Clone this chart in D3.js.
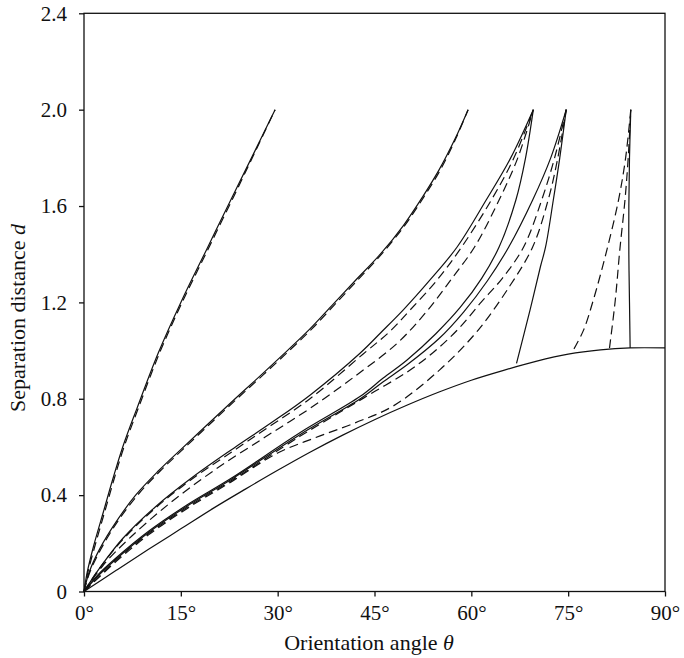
<!DOCTYPE html>
<html>
<head>
<meta charset="utf-8">
<script src="https://cdn.jsdelivr.net/npm/d3@7"></script>
<style>
body{margin:0;background:#fff;}
svg text{font-family:"Liberation Serif","DejaVu Serif",serif;fill:#111;}
</style>
</head>
<body>
<div id="chart"></div>
<script>
// tick values
var thetaTicks = [0, 15, 30, 45, 60, 75, 90];
var dTicks = [0, 0.4, 0.8, 1.2, 1.6, 2.0, 2.4];
var dTickLabels = ["0", "0.4", "0.8", "1.2", "1.6", "2.0", "2.4"];

// lower bound curve [theta (deg), d]
var boundary = [[0,0],[5,0.088],[10,0.175],[15,0.26],[20,0.345],[25,0.425],[30,0.503],[35,0.578],[40,0.648],[45,0.713],[50,0.773],[55,0.828],[60,0.877],[65,0.918],[70,0.955],[75,0.985],[80,1.003],[84.6,1.011],[90,1.011]];

// curves ending at d = 2 near 29.6 deg
var c1Solid = [[0,0],[0.5,0.08],[1.5,0.19],[3,0.33],[4.5,0.47],[6,0.6],[8.2,0.76],[11.5,0.99],[15,1.2],[19,1.42],[23,1.64],[26.5,1.83],[29.6,2.0]];
var c1Dash = [[0,0],[0.6,0.08],[1.7,0.19],[3.2,0.33],[4.7,0.47],[6.2,0.6],[8.4,0.76],[11.7,0.99],[15.2,1.2],[19.2,1.42],[23.2,1.64],[26.6,1.83],[29.6,2.0]];

// curves ending near 59.5 deg
var c2Solid = [[0,0],[0.8,0.08],[2.5,0.18],[5,0.29],[8,0.4],[11.5,0.5],[14.9,0.587],[19,0.69],[23.2,0.795],[27.5,0.9],[31.5,1.0],[35,1.09],[38.5,1.19],[42,1.29],[45.9,1.4],[49.5,1.52],[52.5,1.64],[55,1.75],[57.5,1.88],[59.5,2.0]];
var c2Dash = [[0,0],[0.9,0.08],[2.7,0.18],[5.2,0.29],[8.3,0.4],[11.8,0.5],[15.2,0.587],[19.3,0.69],[23.5,0.795],[27.8,0.9],[31.8,1.0],[35.3,1.09],[38.8,1.19],[42.3,1.29],[46.1,1.4],[49.7,1.52],[52.7,1.64],[55.2,1.75],[57.6,1.88],[59.5,2.0]];

// curves ending near 69.6 deg
var c3SolidA = [[0,0],[2.5,0.1],[6,0.22],[11,0.35],[16.9,0.476],[23.2,0.595],[29,0.7],[35,0.815],[42.8,0.99],[46,1.075],[49.5,1.17],[53.5,1.29],[57.8,1.43],[62.3,1.625],[66.1,1.8],[69.6,2.0]];
var c3DashA = [[0,0],[2.5,0.1],[6,0.215],[11,0.345],[16.9,0.47],[23.2,0.585],[29,0.69],[35,0.8],[43.2,0.985],[47.4,1.08],[50.5,1.168],[54.7,1.293],[58.5,1.43],[63.1,1.625],[66.6,1.8],[69.6,2.0]];
var c3DashB = [[0,0],[3,0.11],[7,0.22],[13,0.36],[20,0.5],[28,0.64],[35,0.76],[42.3,0.9],[48.5,1.03],[53,1.16],[57,1.3],[60.5,1.43],[64.3,1.625],[67.2,1.8],[69.6,2.0]];
var c3SolidB = [[0,0],[2,0.065],[5,0.14],[10,0.25],[16,0.36],[22.8,0.47],[33.5,0.66],[42.8,0.81],[46.3,0.885],[50,0.96],[54.5,1.07],[58.3,1.18],[61.6,1.3],[64.3,1.43],[66.9,1.625],[68.4,1.8],[69.6,2.0]];

// curves ending near 74.7 deg
var c4SolidA = [[0,0],[2,0.06],[5,0.135],[10,0.245],[16,0.355],[22.8,0.465],[33.5,0.652],[42.8,0.8],[46.3,0.87],[50,0.94],[55,1.05],[58.8,1.16],[62.5,1.29],[65.8,1.43],[69.5,1.625],[72.3,1.8],[74.7,2.0]];
var c4DashA = [[0,0],[5,0.13],[10,0.24],[16,0.35],[22.8,0.46],[33.5,0.645],[40,0.75],[45,0.83],[50,0.91],[54,0.99],[58,1.09],[61.5,1.2],[64.8,1.3],[68.1,1.43],[70.9,1.625],[72.9,1.8],[74.7,2.0]];
var c4DashB = [[0,0],[5,0.125],[10,0.235],[16,0.345],[22.8,0.455],[30,0.575],[36,0.64],[42,0.7],[47.9,0.77],[55.1,0.92],[60.9,1.08],[66,1.27],[69.5,1.43],[71.9,1.625],[73.4,1.8],[74.7,2.0]];
var c4SolidB = [[67.0,0.947],[69.1,1.169],[70.7,1.348],[71.5,1.43],[72.7,1.625],[73.7,1.8],[74.7,2.0]];

// curves ending near 84.7 deg
var c5DashA = [[75.9,1.007],[77.4,1.086],[78.9,1.21],[81,1.418],[82.8,1.625],[83.9,1.8],[84.7,2.0]];
var c5DashB = [[81.4,1.01],[82.3,1.21],[83,1.418],[83.8,1.625],[84.3,1.8],[84.7,2.0]];
var c5Solid = [[84.6,1.011],[84.5,1.2],[84.4,1.4],[84.4,1.6],[84.5,1.8],[84.7,2.0]];

var curves = [
	{pts: boundary, dash: false},
	{pts: c1Solid, dash: false}, {pts: c1Dash, dash: true},
	{pts: c2Solid, dash: false}, {pts: c2Dash, dash: true},
	{pts: c3SolidA, dash: false}, {pts: c3DashA, dash: true},
	{pts: c3DashB, dash: true}, {pts: c3SolidB, dash: false},
	{pts: c4SolidA, dash: false}, {pts: c4DashA, dash: true},
	{pts: c4DashB, dash: true}, {pts: c4SolidB, dash: false},
	{pts: c5DashA, dash: true}, {pts: c5DashB, dash: true},
	{pts: c5Solid, dash: false}
];

dibujar();

function dibujar(){
	var W = 684, H = 658;
	var left = 84, right = 665, top = 13.3, bottom = 591.5;

	var svg = d3.select("#chart").append("svg")
		.attr("width", W).attr("height", H);

	var x = d3.scaleLinear().domain([0, 90]).range([left, right]);
	var y = d3.scaleLinear().domain([0, 2.4]).range([bottom, top]);

	var linea = d3.line()
		.x(function(p){ return x(p[0]); })
		.y(function(p){ return y(p[1]); })
		.curve(d3.curveCatmullRom.alpha(0.5));

	svg.append("g").selectAll("path")
		.data(curves)
		.enter().append("path")
		.attr("d", function(c){ return linea(c.pts); })
		.attr("fill", "none")
		.attr("stroke", "#111")
		.attr("stroke-width", 1.2)
		.attr("stroke-dasharray", function(c){ return c.dash ? "9,5" : null; });

	// frame
	svg.append("rect")
		.attr("x", left).attr("y", top)
		.attr("width", right - left).attr("height", bottom - top)
		.attr("fill", "none").attr("stroke", "#111").attr("stroke-width", 1.3);

	var ejeX = svg.append("g")
		.attr("transform", "translate(0," + bottom + ")")
		.call(d3.axisBottom(x).tickValues(thetaTicks)
			.tickFormat(function(t){ return t + "°"; })
			.tickSize(5).tickSizeOuter(0).tickPadding(9));
	var ejeY = svg.append("g")
		.attr("transform", "translate(" + left + ",0)")
		.call(d3.axisLeft(y).tickValues(dTicks)
			.tickFormat(function(t, i){ return dTickLabels[i]; })
			.tickSize(5).tickSizeOuter(0).tickPadding(12));

	[ejeX, ejeY].forEach(function(g){
		g.select(".domain").remove();
		g.selectAll("line").attr("stroke", "#111").attr("stroke-width", 1.3);
		g.selectAll("text").attr("font-size", 21)
			.attr("font-family", "Liberation Serif").attr("fill", "#111");
	});

	var tx = svg.append("text")
		.attr("x", 369).attr("y", 650)
		.attr("text-anchor", "middle")
		.attr("font-size", 22);
	tx.append("tspan").text("Orientation angle ");
	tx.append("tspan").attr("font-style", "italic").text("θ");

	var ty = svg.append("text")
		.attr("transform", "translate(25,318) rotate(-90)")
		.attr("text-anchor", "middle")
		.attr("font-size", 22);
	ty.append("tspan").text("Separation distance ");
	ty.append("tspan").attr("font-style", "italic").text("d");
}
</script>
</body>
</html>
